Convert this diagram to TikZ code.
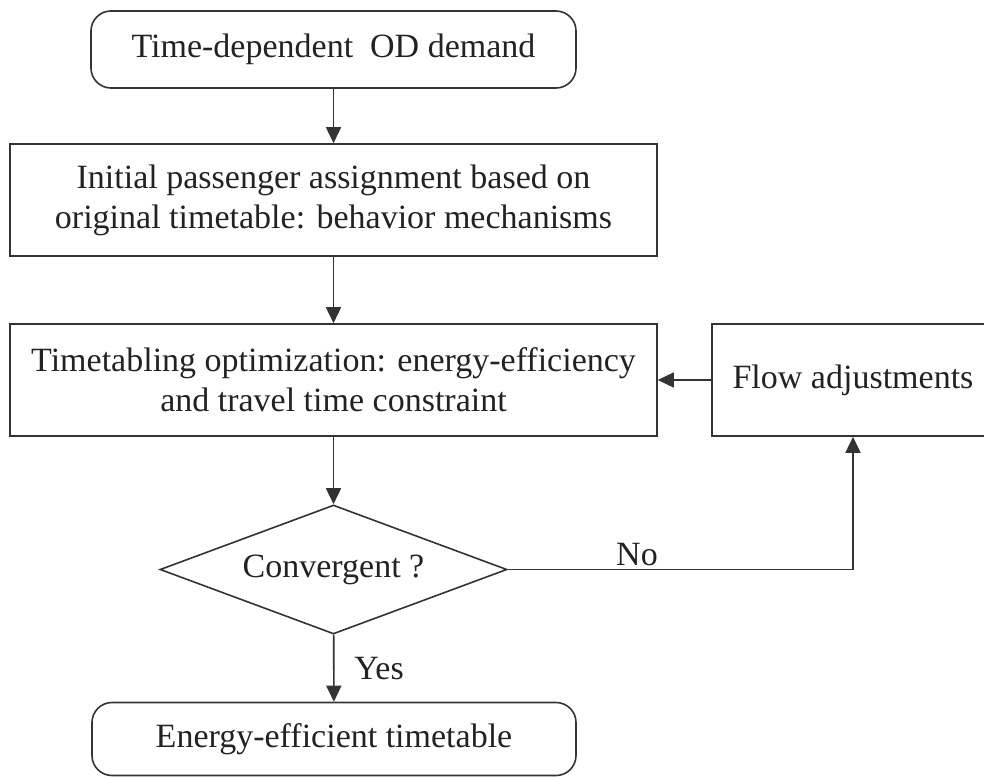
\documentclass[tikz,border=0pt]{standalone}
\usepackage{fontspec}
\setmainfont{Liberation Serif}
\usetikzlibrary{shapes.geometric,arrows.meta}
\definecolor{ink}{HTML}{222222}
\definecolor{edge}{HTML}{333333}
\tikzset{
  base/.style={draw=edge, line width=1.6pt, text=ink, inner sep=0pt,
    font=\fontsize{34}{40}\selectfont, align=center},
  terminal/.style={base, rounded corners=20pt},
  process/.style={base},
  decision/.style={base, diamond, aspect=2.69},
  flow/.style={draw=edge, line width=1.6pt, -{Triangle[length=16pt,width=15pt]}},
  plain/.style={draw=edge, line width=1.6pt},
  tag/.style={text=ink, inner sep=0pt, font=\fontsize{34}{40}\selectfont}
}
\begin{document}
\begin{tikzpicture}[x=1pt,y=-1pt]
  \useasboundingbox (0,0) rectangle (984,777);

  % nodes of the flowchart
  \node[terminal, minimum width=485pt, minimum height=77pt] (start) at (333.5,49.5)
    {Time-dependent\ \ OD demand};
  \node[process, minimum width=647pt, minimum height=112pt] (assign) at (333.5,200)
    {Initial passenger assignment based on\\original timetable: behavior mechanisms};
  \node[process, minimum width=647pt, minimum height=112pt] (opt) at (333.5,380)
    {Timetabling optimization: energy-efficiency\\and travel time constraint};
  \node[process, minimum width=282pt, minimum height=112pt] (adjust) at (853,380)
    {Flow adjustments};
  \node[decision, minimum width=347pt, minimum height=129pt] (conv) at (333.5,569.5)
    {Convergent ?};
  \node[terminal, minimum width=484pt, minimum height=73pt] (result) at (334,739)
    {Energy-efficient timetable};

  % connectors
  \draw[flow] (start) -- (assign);
  \draw[flow] (assign) -- (opt);
  \draw[flow] (opt) -- (conv);
  \draw[flow] (adjust) -- (opt);
  \draw[flow] (conv.east) -| (adjust.south);
  \draw[flow] (conv) -- (result);

  % branch labels
  \node[tag] (nolabel) at (637,555) {No};
  \node[tag] (yeslabel) at (379,669) {Yes};
\end{tikzpicture}
\end{document}
